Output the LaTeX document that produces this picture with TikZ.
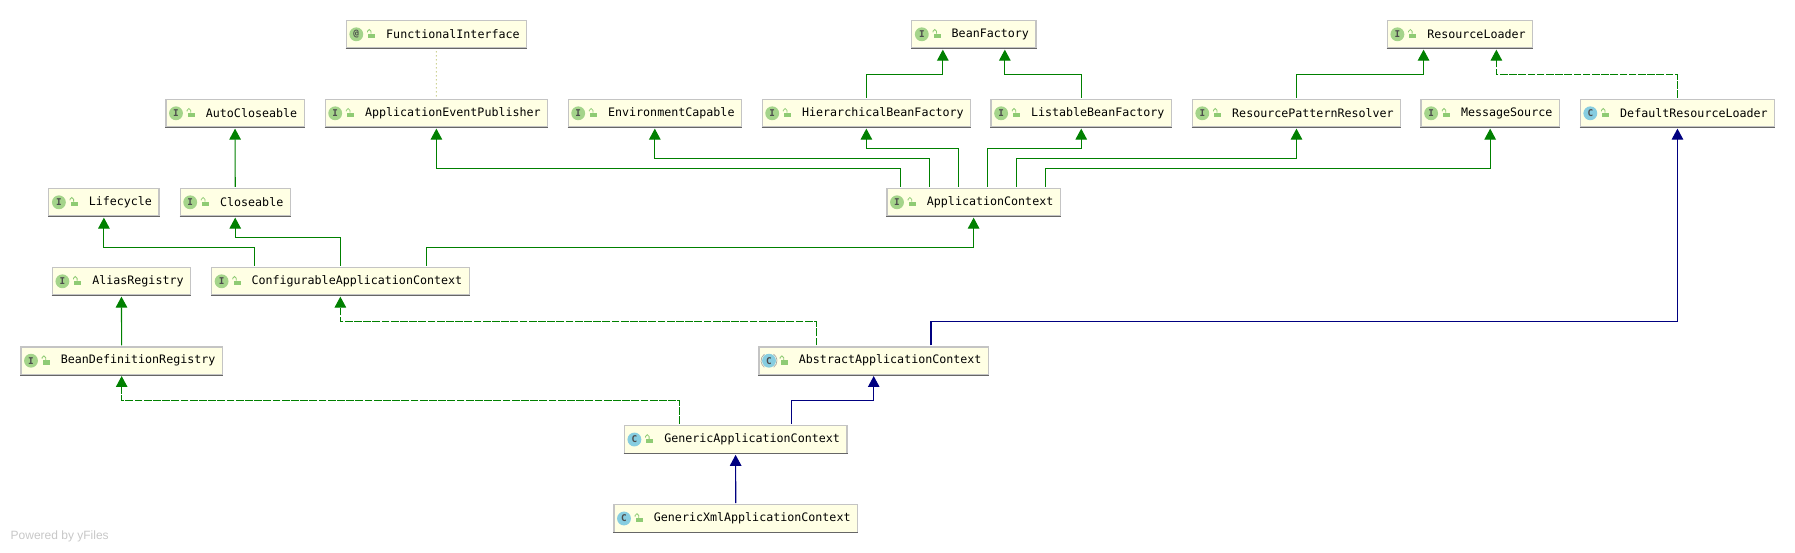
\documentclass[tikz,border=0pt]{standalone}
\usepackage{fontspec}
\setmonofont{DejaVu Sans Mono}
\setsansfont{Liberation Sans}
\usetikzlibrary{arrows.meta}

\definecolor{boxfill}{HTML}{FFFFE4}
\definecolor{boxline}{HTML}{C4C4C4}
\definecolor{boxshade}{HTML}{666666}
\definecolor{icongreen}{HTML}{A4D48A}
\definecolor{iconblue}{HTML}{87CDE0}
\definecolor{lockgreen}{HTML}{8FCB74}
\definecolor{extgreen}{HTML}{008000}
\definecolor{extblue}{HTML}{000080}
\definecolor{dotline}{HTML}{B4BC5C}

\begin{document}
\begin{tikzpicture}[x=0.75pt,y=-0.75pt]
\tikzset{xs/.style = {xshift=#1*0.75pt}}
\tikzset{cls/.style = {shape=rectangle,anchor=west,draw=boxline,fill=boxfill,line width=0.9pt,
  minimum height=20.6pt,inner xsep=5.25pt,inner ysep=0pt,font=\ttfamily\fontsize{8.75}{10}\selectfont}}
\tikzset{icon/.style = {shape=circle,inner sep=0pt,minimum size=10.4pt,text=black!70,
  font=\ttfamily\bfseries\fontsize{7}{7}\selectfont}}
\tikzset{ext/.style = {draw=extgreen,fill=none,line width=0.85pt,shorten <=0.75pt,shorten >=0.75pt,
  -{Triangle[width=8.6pt,length=8.2pt,fill=extgreen]}}}
\tikzset{impl/.style = {ext,dash pattern=on 5.8pt off 1.1pt}}
\tikzset{inherit/.style = {ext,draw=extblue,-{Triangle[width=8.6pt,length=8.2pt,fill=extblue]}}}
\newcommand{\gap}{\hspace{24.75pt}}
\useasboundingbox (0,0) rectangle (1795,553);
% vertices
\node[cls] (func) at (345.6,34.3) {\gap FunctionalInterface};
\node[cls] (bean) at (911.1,34.3) {\gap BeanFactory};
\node[cls] (loader) at (1386.7,34.3) {\gap ResourceLoader};
\node[cls] (auto) at (165.3,113.3) {\gap AutoCloseable};
\node[cls] (pub) at (324.5,113.3) {\gap ApplicationEventPublisher};
\node[cls] (env) at (567.5,113.3) {\gap EnvironmentCapable};
\node[cls] (hier) at (761.5,113.3) {\gap HierarchicalBeanFactory};
\node[cls] (list) at (990.4,113.3) {\gap ListableBeanFactory};
\node[cls] (resolver) at (1191.6,113.3) {\gap ResourcePatternResolver};
\node[cls] (msg) at (1420.4,113.3) {\gap MessageSource};
\node[cls] (dload) at (1579.6,113.3) {\gap DefaultResourceLoader};
\node[cls] (life) at (48.2,202.3) {\gap Lifecycle};
\node[cls] (close) at (179.5,202.3) {\gap Closeable};
\node[cls] (appctx) at (886.3,202.3) {\gap ApplicationContext};
\node[cls] (alias) at (51.7,281.3) {\gap AliasRegistry};
\node[cls] (conf) at (210.9,281.3) {\gap ConfigurableApplicationContext};
\node[cls] (reg) at (20.3,360.7) {\gap BeanDefinitionRegistry};
\node[cls] (abs) at (758.3,360.7) {\gap AbstractApplicationContext};
\node[cls] (gen) at (623.7,439.5) {\gap GenericApplicationContext};
\node[cls] (xml) at (613.3,518.5) {\gap GenericXmlApplicationContext};
% shaded lower rim and icons
\foreach \n/\k/\c in {func/@/icongreen,bean/I/icongreen,loader/I/icongreen,auto/I/icongreen,
  pub/I/icongreen,env/I/icongreen,hier/I/icongreen,list/I/icongreen,resolver/I/icongreen,
  msg/I/icongreen,dload/C/iconblue,life/I/icongreen,close/I/icongreen,appctx/I/icongreen,
  alias/I/icongreen,conf/I/icongreen,reg/I/icongreen,abs/C/iconblue,gen/C/iconblue,xml/C/iconblue}{
  \draw[boxshade,line width=0.75pt] (\n.south west) -- (\n.south east);
  \node[icon,fill=\c] (i\n) at ([xs=10.7]\n.west) {\k};
  \fill[lockgreen] ([xs=22.7,yshift=0.45pt]\n.west) rectangle ([xs=29.6,yshift=-2.9pt]\n.west);
  \draw[lockgreen,line width=0.6pt] ([xs=25.4,yshift=0.45pt]\n.west) -- ++(0,-2.4) arc (0:180:1.35pt) -- ++(0,1);
}
\draw[black!35,line width=0.5pt] (iabs.center) ++(125:6pt) arc (125:235:6pt);
\draw[black!35,line width=0.5pt] (iabs.center) ++(-55:6pt) arc (-55:55:6pt);
\node[anchor=west,text=black!22,font=\sffamily\fontsize{9}{10}\selectfont] (yfiles) at (6,536.7) {Powered by yFiles};
%edges
\draw[dotline,line width=0.75pt,dash pattern=on 0.75pt off 2.25pt,shorten <=2pt,shorten >=1pt] (func) -- (pub);
\draw[ext] (hier.north) -- ++(0,-24.4) -| ([xs=-31]bean.south);
\draw[ext] (list.north) -- ++(0,-24.4) -| ([xs=31]bean.south);
\draw[ext] (resolver.north) -- ++(0,-24.4) -| ([xs=-36.4]loader.south);
\draw[impl] (dload.north) -- ++(0,-24.4) -| ([xs=36.4]loader.south);
\draw[ext] (close.north) -- (auto.south);
\draw[ext] ([xs=-73.1]appctx.north) -- ++(0,-19.4) -| (pub.south);
\draw[ext] ([xs=-44.1]appctx.north) -- ++(0,-29.4) -| (env.south);
\draw[ext] ([xs=-15.1]appctx.north) -- ++(0,-39.4) -| (hier.south);
\draw[ext] ([xs=13.9]appctx.north) -- ++(0,-39.4) -| (list.south);
\draw[ext] ([xs=42.9]appctx.north) -- ++(0,-29.4) -| (resolver.south);
\draw[ext] ([xs=71.9]appctx.north) -- ++(0,-19.4) -| (msg.south);
\draw[ext] ([xs=-85.8]conf.north) -- ++(0,-19.4) -| (life.south);
\draw[ext] (conf.north) -- ++(0,-29.4) -| (close.south);
\draw[ext] ([xs=85.8]conf.north) -- ++(0,-19.4) -| (appctx.south);
\draw[ext] (reg.north) -- (alias.south);
\draw[impl] ([xs=-57.3]abs.north) -- ++(0,-24.8) -| (conf.south);
\draw[inherit] ([xs=57.3]abs.north) -- ++(0,-24.8) -| (dload.south);
\draw[impl] ([xs=-55.7]gen.north) -- ++(0,-24.6) -| (reg.south);
\draw[inherit] ([xs=55.7]gen.north) -- ++(0,-24.6) -| (abs.south);
\draw[inherit] (xml.north) -- (gen.south);
\end{tikzpicture}
\end{document}
